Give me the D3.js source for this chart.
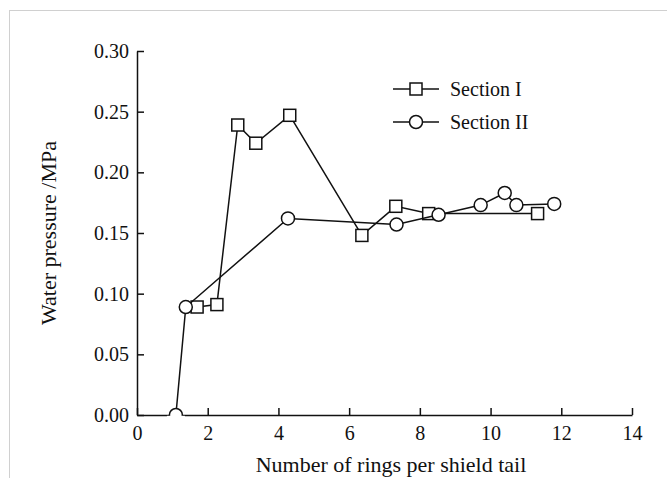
<!DOCTYPE html>
<html>
<head>
<meta charset="utf-8">
<script src="https://cdn.jsdelivr.net/npm/d3@7"></script>
<style>
  body { margin: 0; background: #fff; }
  text { font-family: "Liberation Serif", "Times New Roman", serif; fill: #111; }
</style>
</head>
<body>
<div id="chart"></div>
<script>
// data
var sectionIx = [1.7, 2.26, 2.85, 3.36, 4.32, 6.36, 7.32, 8.25, 11.33];
var sectionIy = [0.089, 0.091, 0.239, 0.224, 0.247, 0.148, 0.172, 0.166, 0.166];
var sectionIIx = [1.1, 1.38, 4.27, 7.34, 8.53, 9.72, 10.4, 10.73, 11.8];
var sectionIIy = [0.0, 0.089, 0.162, 0.157, 0.165, 0.173, 0.183, 0.173, 0.174];
var xTicks = [0, 2, 4, 6, 8, 10, 12, 14];
var yTicks = [0, 0.05, 0.10, 0.15, 0.20, 0.25, 0.30];
var seriesNames = ["Section I", "Section II"];

var width = 667, height = 478;
var margin = { left: 137, top: 51, right: 35, bottom: 63 };

var svg = d3.select("#chart").append("svg")
    .attr("width", width).attr("height", height);

//light frame round the figure
svg.append("rect").attr("x", 9.5).attr("y", 10.5)
    .attr("width", 670).attr("height", 480)
    .attr("fill", "none").attr("stroke", "#d0d0d0");

var x = d3.scaleLinear().domain([0, 14]).range([margin.left, width - margin.right]);
var y = d3.scaleLinear().domain([0, 0.30]).range([height - margin.bottom, margin.top]);

var g = svg.append("g");

//axes, ticks point inward
var xAxis = g.append("g").attr("transform", "translate(0," + y(0) + ")")
    .call(d3.axisBottom(x).tickValues(xTicks).tickSizeInner(-7).tickSizeOuter(0).tickPadding(11));
var yAxis = g.append("g").attr("transform", "translate(" + x(0) + ",0)")
    .call(d3.axisLeft(y).tickValues(yTicks).tickSizeInner(-7).tickSizeOuter(0).tickPadding(8)
        .tickFormat(d3.format(".2f")));

[xAxis, yAxis].forEach(function (a) {
    a.select(".domain").attr("stroke", "#111").attr("stroke-width", 1.5);
    a.selectAll(".tick line").attr("stroke", "#111").attr("stroke-width", 1.5);
    a.selectAll("text").style("font-family", "Liberation Serif").style("font-size", "20px").attr("fill", "#111");
});

// axis titles
g.append("text").attr("x", 391).attr("y", 472)
    .attr("text-anchor", "middle").style("font-size", "22px")
    .text("Number of rings per shield tail");
g.append("text").attr("transform", "translate(56," + 233 + ") rotate(-90)")
    .attr("text-anchor", "middle").style("font-size", "22px")
    .text("Water pressure /MPa");

var line = d3.line().x(function (d) { return x(d[0]); }).y(function (d) { return y(d[1]); });

var s1 = d3.zip(sectionIx, sectionIy);
var s2 = d3.zip(sectionIIx, sectionIIy);

function drawSeries(pts, kind) {
    g.append("path").datum(pts).attr("d", line)
        .attr("fill", "none").attr("stroke", "#111").attr("stroke-width", 1.5);
    if (kind === "square") {
        g.selectAll(null).data(pts).enter().append("rect")
            .attr("x", function (d) { return x(d[0]) - 6; })
            .attr("y", function (d) { return y(d[1]) - 6; })
            .attr("width", 12).attr("height", 12)
            .attr("fill", "#fff").attr("stroke", "#111").attr("stroke-width", 1.5);
    } else {
        g.selectAll(null).data(pts).enter().append("circle")
            .attr("cx", function (d) { return x(d[0]); })
            .attr("cy", function (d) { return y(d[1]); })
            .attr("r", 6.5)
            .attr("fill", "#fff").attr("stroke", "#111").attr("stroke-width", 1.5);
    }
}

drawSeries(s1, "square");
drawSeries(s2, "circle");

// clip the lower half of the circle sitting on the x axis
g.append("rect").attr("x", x(sectionIIx[0]) - 9).attr("y", y(0) + 0.8)
    .attr("width", 18).attr("height", 8).attr("fill", "#fff");

//legend
var legend = g.append("g").attr("transform", "translate(393,89)");
seriesNames.forEach(function (name, i) {
    var row = legend.append("g").attr("transform", "translate(0," + (i * 33) + ")");
    row.append("line").attr("x1", 0).attr("x2", 46).attr("y1", 0).attr("y2", 0)
        .attr("stroke", "#111").attr("stroke-width", 1.5);
    if (i === 0) {
        row.append("rect").attr("x", 17).attr("y", -6).attr("width", 12).attr("height", 12)
            .attr("fill", "#fff").attr("stroke", "#111").attr("stroke-width", 1.5);
    } else {
        row.append("circle").attr("cx", 23).attr("cy", 0).attr("r", 6.5)
            .attr("fill", "#fff").attr("stroke", "#111").attr("stroke-width", 1.5);
    }
    row.append("text").attr("x", 57).attr("y", 7).style("font-size", "20px").text(name);
});
</script>
</body>
</html>
